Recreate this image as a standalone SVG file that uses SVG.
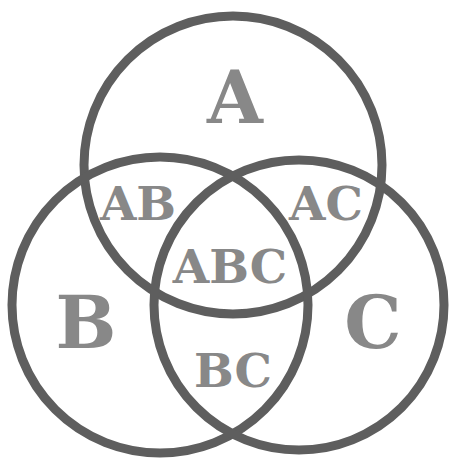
<svg xmlns="http://www.w3.org/2000/svg" width="457" height="459" viewBox="0 0 457 459">
<style>
.c{fill:none;stroke:#5e5e5e;stroke-width:9}
.t{font-family:"DejaVu Serif","Liberation Serif",serif;font-weight:bold;fill:#888;text-anchor:middle}
.big{font-size:72px}
.sm{font-size:47px}
</style>
<rect width="457" height="459" fill="#fff"/>
<g id="circleA"><circle class="c" cx="233" cy="165" r="149"/></g>
<g id="circleB"><circle class="c" cx="160" cy="305" r="148"/></g>
<g id="circleC"><circle class="c" cx="299" cy="305" r="145"/></g>
<g id="labels">
<text class="t big" x="235" y="123">A</text>
<text class="t big" x="86" y="348">B</text>
<text class="t big" x="373" y="348">C</text>
<text class="t sm" x="138" y="220">AB</text>
<text class="t sm" x="326" y="220">AC</text>
<text class="t sm" x="230" y="283">ABC</text>
<text class="t sm" x="233" y="387">BC</text>
</g>
</svg>
